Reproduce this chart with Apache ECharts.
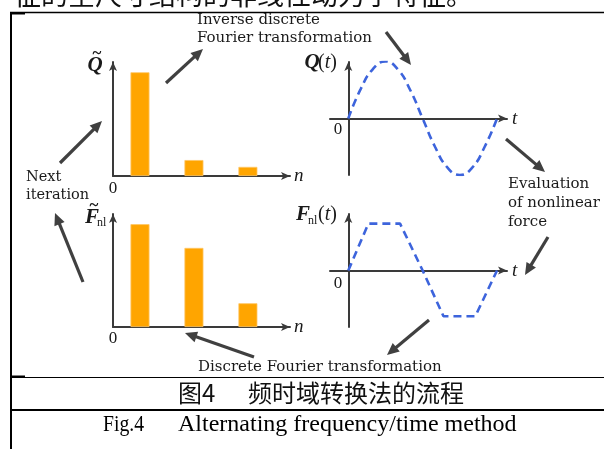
<!DOCTYPE html>
<html><head><meta charset="utf-8">
<script src="https://cdn.jsdelivr.net/npm/echarts@6/dist/echarts.min.js"></script>
<style>html,body{margin:0;padding:0;background:#fff}#c{width:604px;height:449px}</style>
</head><body><div id="c"></div>
<script>
// ---- data ----
const harmonicPos = [0.5, 1.5, 2.5];          // harmonic index positions on the n axis
const qSpectrum   = [0.91, 0.14, 0.08];       // |Q~| per harmonic
const fSpectrum   = [0.91, 0.70, 0.21];       // |F~nl| per harmonic
const qTime   = [0, 0.083, 0.167, 0.25, 0.333, 0.417, 0.5, 0.583, 0.667, 0.75, 0.833, 0.917, 1];
const qValues = [0, 0.52, 0.88, 1.01, 0.87, 0.50, 0, -0.50, -0.87, -1.0, -0.87, -0.50, 0];
const fTime   = [0, 0.135, 0.348, 0.5, 0.640, 0.854, 1];
const fValues = [0, 0.83, 0.83, 0, -0.81, -0.81, 0];
const captionCN = ['图4', '频时域转换法的流程'];
const captionEN = ['Fig.4', 'Alternating frequency/time method'];

const AX = '#3a3a3a';
const TXT = '#1a1a1a';
const serif = 'DejaVu Serif';
const times = 'Liberation Serif';

function axisLine(){ return {show:true, symbol:['none','arrow'], symbolSize:[6,9], lineStyle:{color:AX, width:2}}; }
function baseAxis(extra){
  return Object.assign({axisTick:{show:false}, axisLabel:{show:false}, splitLine:{show:false}, axisLine: axisLine()}, extra);
}

function arrow(x1,y1,x2,y2){
  const dx=x2-x1, dy=y2-y1, L=Math.hypot(dx,dy), ux=dx/L, uy=dy/L;
  const hl=12, hw=5.5;
  const bx=x2-ux*hl, by=y2-uy*hl;
  return [
    {type:'line', shape:{x1:x1,y1:y1,x2:bx+ux*1,y2:by+uy*1}, style:{stroke:'#404040', lineWidth:3.2}},
    {type:'polygon', shape:{points:[[x2,y2],[bx-uy*hw,by+ux*hw],[bx+uy*hw,by-ux*hw]]}, style:{fill:'#404040'}}
  ];
}
function txt(x,y,s,font,size,opts,extra){
  return Object.assign({type:'text', x:x, y:y, style:Object.assign({text:s, fontFamily:font, fontSize:size, fill:TXT, textVerticalAlign:'middle', textAlign:'left'}, opts||{})}, extra||{});
}
function hline(x1,x2,y,w){ return {type:'line', shape:{x1:x1,y1:y,x2:x2,y2:y}, style:{stroke:'#000', lineWidth:w}}; }

const graphics = [].concat(
  // frame
  [hline(10,604,12.5,1.5), hline(10,25,13.5,2), hline(10,604,377.5,1), hline(10,25,376.5,2), hline(10,604,410,2.2),
   {type:'line', shape:{x1:11,y1:12,x2:11,y2:449}, style:{stroke:'#000', lineWidth:2}}],
  // cut-off previous text line
  [txt(14,-5,'征的全尺寸结构的非线性动力学特征。','Noto Sans CJK SC',27,{fill:'#111'})],
  // arrows
  arrow(166,83,203,49), arrow(386,32,411,65), arrow(506,139,545,172), arrow(548,237,525,275),
  arrow(429,320,387,355), arrow(254,357,185,333), arrow(83,282,55,213), arrow(60,163,102,121),
  // annotation texts
  [txt(197,20,'Inverse discrete',serif,15), txt(197,38,'Fourier transformation',serif,15),
   txt(508,184,'Evaluation',serif,15), txt(508,203,'of nonlinear',serif,15), txt(508,222,'force',serif,15),
   txt(26,177,'Next',serif,14.5), txt(26,195,'iteration',serif,14.5),
   txt(198,367,'Discrete Fourier transformation',serif,15)],
  // math labels
  [txt(95,66,'Q',times,21,{fontWeight:'bold',fontStyle:'italic',textAlign:'center'}),
   txt(97,54,'~',times,17,{fontWeight:'bold',textAlign:'center'}),
   txt(92,218,'F',times,21,{fontWeight:'bold',fontStyle:'italic',textAlign:'center'}),
   txt(94,206,'~',times,17,{fontWeight:'bold',textAlign:'center'}),
   txt(97,223,'nl',times,12),
   txt(312,63,'Q',times,21,{fontWeight:'bold',fontStyle:'italic',textAlign:'center'}),
   {type:'text', x:318, y:63, style:{text:'{a|(}{b|t}{a|)}', textVerticalAlign:'middle', rich:{a:{fontFamily:times,fontSize:20,fill:TXT}, b:{fontFamily:times,fontSize:20,fontStyle:'italic',fill:TXT}}}},
   txt(303,215,'F',times,21,{fontWeight:'bold',fontStyle:'italic',textAlign:'center'}),
   txt(308,221,'nl',times,12),
   {type:'text', x:318, y:215, style:{text:'{a|(}{b|t}{a|)}', textVerticalAlign:'middle', rich:{a:{fontFamily:times,fontSize:20,fill:TXT}, b:{fontFamily:times,fontSize:20,fontStyle:'italic',fill:TXT}}}},
   txt(113,189,'0',times,17,{textAlign:'center'}), txt(113,339,'0',times,17,{textAlign:'center'}),
   txt(338,130,'0',times,17,{textAlign:'center'}), txt(338,284,'0',times,17,{textAlign:'center'})],
  // captions
  [txt(178,393,captionCN[0],'Noto Sans CJK SC',24,{fill:'#111'}), txt(248,393,captionCN[1],'Noto Sans CJK SC',24,{fill:'#111'}),
   txt(103,425,captionEN[0],times,24,{fill:'#000'},{scaleX:0.82}), txt(178,425,captionEN[1],times,24,{fill:'#000'})]
);

const nameStyleN = {fontFamily:times, fontSize:19, fontStyle:'italic', color:TXT};
const option = {
  animation:false,
  backgroundColor:'#fff',
  grid:[
    {left:113, top:62, width:177, height:114},
    {left:113, top:214, width:177, height:113},
    {left:330, top:62, width:177, height:113},
    {left:330, top:214, width:177, height:113}
  ],
  xAxis:[
    baseAxis({type:'value', gridIndex:0, min:0, max:3.28, name:'n', nameGap:4, nameTextStyle:nameStyleN}),
    baseAxis({type:'value', gridIndex:1, min:0, max:3.28, name:'n', nameGap:4, nameTextStyle:nameStyleN}),
    baseAxis({type:'value', gridIndex:2, min:-0.123, max:1.067, name:'t', nameGap:5, nameTextStyle:nameStyleN}),
    baseAxis({type:'value', gridIndex:3, min:-0.123, max:1.067, name:'t', nameGap:5, nameTextStyle:nameStyleN})
  ],
  yAxis:[
    baseAxis({type:'value', gridIndex:0, min:0, max:1}),
    baseAxis({type:'value', gridIndex:1, min:0, max:1}),
    baseAxis({type:'value', gridIndex:2, min:-1, max:1}),
    baseAxis({type:'value', gridIndex:3, min:-1, max:1})
  ],
  series:[
    {type:'bar', xAxisIndex:0, yAxisIndex:0, barWidth:19, data:harmonicPos.map((p,i)=>[p,qSpectrum[i]]),
     itemStyle:{color:'#FFA500', borderColor:'#FFC766', borderWidth:0.8}},
    {type:'bar', xAxisIndex:1, yAxisIndex:1, barWidth:19, data:harmonicPos.map((p,i)=>[p,fSpectrum[i]]),
     itemStyle:{color:'#FFA500', borderColor:'#FFC766', borderWidth:0.8}},
    {type:'line', xAxisIndex:2, yAxisIndex:2, smooth:true, symbol:'none', data:qTime.map((t,i)=>[t,qValues[i]]),
     lineStyle:{color:'#3d64dc', width:2.6, type:[8,5]}},
    {type:'line', xAxisIndex:3, yAxisIndex:3, symbol:'none', data:fTime.map((t,i)=>[t,fValues[i]]),
     lineStyle:{color:'#3d64dc', width:2.6, type:[8,5]}}
  ],
  graphic:graphics
};
const chart = echarts.init(document.getElementById('c'), null, {renderer:'canvas'});
chart.setOption(option);
</script>
</body></html>
